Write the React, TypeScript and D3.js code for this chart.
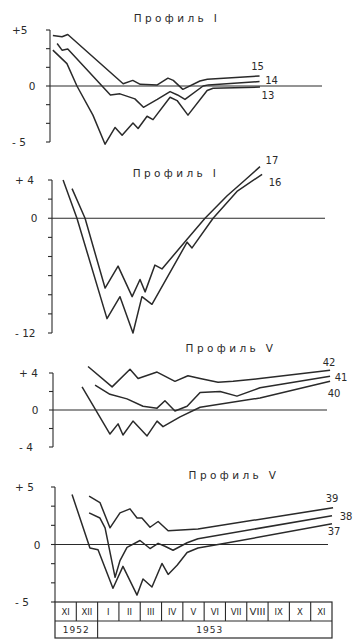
import React from "react";
import * as d3 from "d3";

type Pt = [number, number];

// Month axis: index 0 = November 1952
const monthLabels = ["XI", "XII", "I", "II", "III", "IV", "V", "VI", "VII", "VIII", "IX", "X", "XI"];
const yearLabels = ["1952", "1953"];
const yearSpans = [2, 11];

// Профиль I, upper block (series 13, 14, 15)
const p1s15: Pt[] = [[-0.1, 4.5], [0.33, 4.4], [0.6, 4.6], [3.2, 0.2], [3.65, 0.5], [4.0, 0.15], [4.8, 0.1], [5.3, 0.7], [5.55, 0.5], [6.0, -0.3], [6.8, 0.45], [7.15, 0.6], [9.6, 0.9]];
const p1s14: Pt[] = [[0.1, 3.8], [0.33, 3.2], [0.6, 3.3], [2.6, -0.8], [3.05, -0.7], [3.75, -1.15], [4.15, -1.9], [4.8, -1.2], [5.4, -0.5], [5.75, -0.8], [6.1, -1.2], [6.95, 0], [7.2, 0.1], [9.6, 0.4]];
const p1s13: Pt[] = [[-0.1, 3.2], [0.56, 2.0], [1.03, 0], [1.78, -2.6], [2.35, -5.2], [2.82, -3.7], [3.15, -4.4], [3.66, -3.3], [3.9, -3.8], [4.32, -2.7], [4.6, -3.0], [5.4, -1.0], [5.73, -1.3], [6.24, -2.6], [7.14, -0.4], [7.42, -0.2], [9.62, -0.1]];

// Профиль I, lower block (series 16, 17)
const p2s17: Pt[] = [[0.8, 3.1], [1.41, 0], [2.35, -7.3], [2.96, -5.0], [3.62, -8.2], [3.99, -6.4], [4.23, -7.7], [4.69, -4.9], [5.02, -5.3], [6.2, -2.2], [7.04, 0], [8.08, 2.35], [8.92, 4.0], [9.62, 5.4]];
const p2s16: Pt[] = [[0.38, 4.0], [1.03, 0], [2.44, -10.5], [3.05, -8.2], [3.66, -12.0], [4.08, -8.2], [4.55, -9.0], [6.2, -2.5], [6.43, -3.1], [7.42, 0], [8.54, 2.8], [9.72, 4.6]];

// Профиль V, upper block (series 40, 41, 42)
const p3s42: Pt[] = [[1.55, 4.7], [2.68, 2.5], [3.52, 4.4], [3.9, 3.4], [4.79, 4.1], [5.63, 3.1], [6.24, 3.7], [6.81, 3.4], [7.65, 3.0], [8.36, 3.1], [9.62, 3.4], [12.91, 4.3]];
const p3s41: Pt[] = [[1.88, 2.7], [2.58, 1.7], [3.38, 1.2], [4.13, 0.4], [4.79, 0.2], [5.16, 1.0], [5.63, -0.1], [6.2, 0.4], [6.81, 1.9], [7.75, 2.0], [8.54, 1.5], [9.62, 2.4], [12.91, 3.65]];
const p3s40: Pt[] = [[1.27, 2.5], [2.58, -2.6], [2.96, -1.5], [3.19, -2.7], [3.66, -1.2], [4.32, -2.8], [4.79, -1.2], [5.07, -1.8], [5.87, -0.75], [6.81, 0.3], [9.62, 1.3], [12.91, 3.1]];

// Профиль V, lower block (series 37, 38, 39)
const p4s39: Pt[] = [[1.6, 4.2], [2.11, 3.65], [2.58, 1.45], [3.05, 2.75], [3.52, 3.1], [3.85, 2.3], [4.08, 2.3], [4.46, 1.5], [4.84, 2.0], [5.31, 1.2], [6.71, 1.35], [13.05, 3.2]];
const p4s38: Pt[] = [[1.6, 2.75], [2.11, 2.3], [2.35, 1.45], [2.82, -2.85], [3.05, -1.4], [3.38, -0.25], [3.99, 0.35], [4.46, -0.35], [4.84, 0.1], [5.16, -0.15], [5.54, -0.5], [6.2, 0.15], [6.71, 0.5], [13.0, 2.5]];
const p4s37: Pt[] = [[0.8, 4.35], [1.64, -0.3], [2.02, -0.45], [2.72, -3.8], [3.19, -1.9], [3.85, -4.4], [4.13, -3.0], [4.55, -3.7], [5.02, -1.65], [5.31, -2.6], [5.73, -1.8], [6.2, -0.7], [6.71, -0.3], [8.12, 0.15], [13.0, 1.8]];

const W = 355;
const H = 640;
const INK = "#2a2a2a";
const FONT = "'DejaVu Sans', sans-serif";

const x = d3.scaleLinear().domain([0, 13]).range([55, 332]);

interface Series { name: string; data: Pt[]; dx: number; dy: number }
interface Panel {
  title: string; titleX: number; titleY: number;
  domain: [number, number]; range: [number, number];
  ticks: number[]; top: string; bottom: string;
  axisX: number; zeroEnd: number; labelX: number;
  series: Series[];
}

const thirds = d3.range(-5, 5.001, 5 / 3);

const panels: Panel[] = [
  {
    title: "Профиль I", titleX: 177, titleY: 18, domain: [-5, 5], range: [142, 30],
    ticks: thirds, top: "+5", bottom: "- 5", axisX: 50, zeroEnd: 322, labelX: 12,
    series: [
      { name: "15", data: p1s15, dx: -2, dy: -9 },
      { name: "14", data: p1s14, dx: 12, dy: -1 },
      { name: "13", data: p1s13, dx: 8, dy: 8 },
    ],
  },
  {
    title: "Профиль I", titleX: 176, titleY: 173, domain: [-12, 4], range: [333, 180],
    ticks: d3.range(-12, 4.001, 2), top: "+ 4", bottom: "- 12", axisX: 52, zeroEnd: 325, labelX: 15,
    series: [
      { name: "17", data: p2s17, dx: 12, dy: -6 },
      { name: "16", data: p2s16, dx: 13, dy: 8 },
    ],
  },
  {
    title: "Профиль V", titleX: 231, titleY: 348, domain: [-4, 4], range: [447, 373],
    ticks: d3.range(-4, 4.001, 2), top: "+ 4", bottom: "- 4", axisX: 53, zeroEnd: 327, labelX: 19,
    series: [
      { name: "42", data: p3s42, dx: -1, dy: -8 },
      { name: "41", data: p3s41, dx: 11, dy: 1 },
      { name: "40", data: p3s40, dx: 4, dy: 12 },
    ],
  },
  {
    title: "Профиль V", titleX: 234, titleY: 475, domain: [-5, 5], range: [602, 487],
    ticks: thirds, top: "+ 5", bottom: "- 5", axisX: 55, zeroEnd: 328, labelX: 15,
    series: [
      { name: "39", data: p4s39, dx: -1, dy: -9 },
      { name: "38", data: p4s38, dx: 14, dy: 1 },
      { name: "37", data: p4s37, dx: 2, dy: 8 },
    ],
  },
];

function PanelView({ p }: { p: Panel }) {
  const y = d3.scaleLinear().domain(p.domain).range(p.range);
  const line = d3.line<Pt>().x((d) => x(d[0])).y((d) => y(d[1]));
  const [lo, hi] = p.domain;
  return (
    <g>
      <text x={p.titleX} y={p.titleY} textAnchor="middle" dominantBaseline="central"
        fontFamily={FONT} fontSize={10.5} letterSpacing={3.4} fill={INK}>{p.title}</text>
      {/* y axis with ticks to the left */}
      <line x1={p.axisX} x2={p.axisX} y1={y(hi)} y2={y(lo)} stroke={INK} strokeWidth={1.1} />
      {p.ticks.map((t, i) => (
        <line key={i} x1={p.axisX - 4} x2={p.axisX} y1={y(t)} y2={y(t)} stroke={INK} strokeWidth={1.1} />
      ))}
      <text x={p.labelX} y={y(hi)} dominantBaseline="central" fontFamily={FONT} fontSize={10.5} fill={INK}>{p.top}</text>
      <text x={p.axisX - 18} y={y(0)} textAnchor="middle" dominantBaseline="central" fontFamily={FONT} fontSize={10.5} fill={INK}>0</text>
      <text x={p.labelX} y={y(lo)} dominantBaseline="central" fontFamily={FONT} fontSize={10.5} fill={INK}>{p.bottom}</text>
      {/* zero line */}
      <line x1={p.axisX} x2={p.zeroEnd} y1={y(0)} y2={y(0)} stroke={INK} strokeWidth={1.1} />
      {p.series.map((s) => {
        const last = s.data[s.data.length - 1];
        return (
          <g key={s.name}>
            <path d={line(s.data) ?? ""} fill="none" stroke={INK} strokeWidth={1.5} strokeLinejoin="round" />
            <text x={x(last[0]) + s.dx} y={y(last[1]) + s.dy} textAnchor="middle" dominantBaseline="central"
              fontFamily={FONT} fontSize={10} fill={INK}>{s.name}</text>
          </g>
        );
      })}
    </g>
  );
}

function MonthTable() {
  const top = 602, mid = 621, bottom = 638;
  let acc = 0;
  const yearCells = yearLabels.map((label, i) => {
    const start = acc;
    acc += yearSpans[i];
    return { label, start, end: acc };
  });
  return (
    <g>
      <rect x={x(0)} y={top} width={x(13) - x(0)} height={bottom - top} fill="none" stroke={INK} strokeWidth={1.2} />
      <line x1={x(0)} x2={x(13)} y1={mid} y2={mid} stroke={INK} strokeWidth={1.1} />
      {monthLabels.map((m, i) => (
        <g key={i}>
          {i > 0 && <line x1={x(i)} x2={x(i)} y1={top} y2={mid} stroke={INK} strokeWidth={1.1} />}
          <text x={x(i + 0.5)} y={(top + mid) / 2 + 0.5} textAnchor="middle" dominantBaseline="central"
            fontFamily={FONT} fontSize={8.5} fill={INK}
            {...(m.length > 3 ? { textLength: 16, lengthAdjust: "spacingAndGlyphs" } : {})}>{m}</text>
        </g>
      ))}
      {yearCells.map((c, i) => (
        <g key={c.label}>
          {i > 0 && <line x1={x(c.start)} x2={x(c.start)} y1={mid} y2={bottom} stroke={INK} strokeWidth={1.1} />}
          <text x={i === 0 ? x((c.start + c.end) / 2) : x((c.start + c.end) / 2) - 5} y={(mid + bottom) / 2 + 0.5}
            textAnchor="middle" dominantBaseline="central" fontFamily={FONT} fontSize={9} letterSpacing={1} fill={INK}>{c.label}</text>
        </g>
      ))}
    </g>
  );
}

export default function App() {
  return (
    <div style={{ position: "absolute", left: 0, top: 0 }}>
      <svg width={W} height={H} viewBox={`0 0 ${W} ${H}`} style={{ display: "block", background: "#fff" }}>
        {panels.map((p, i) => <PanelView key={i} p={p} />)}
        <MonthTable />
      </svg>
    </div>
  );
}
